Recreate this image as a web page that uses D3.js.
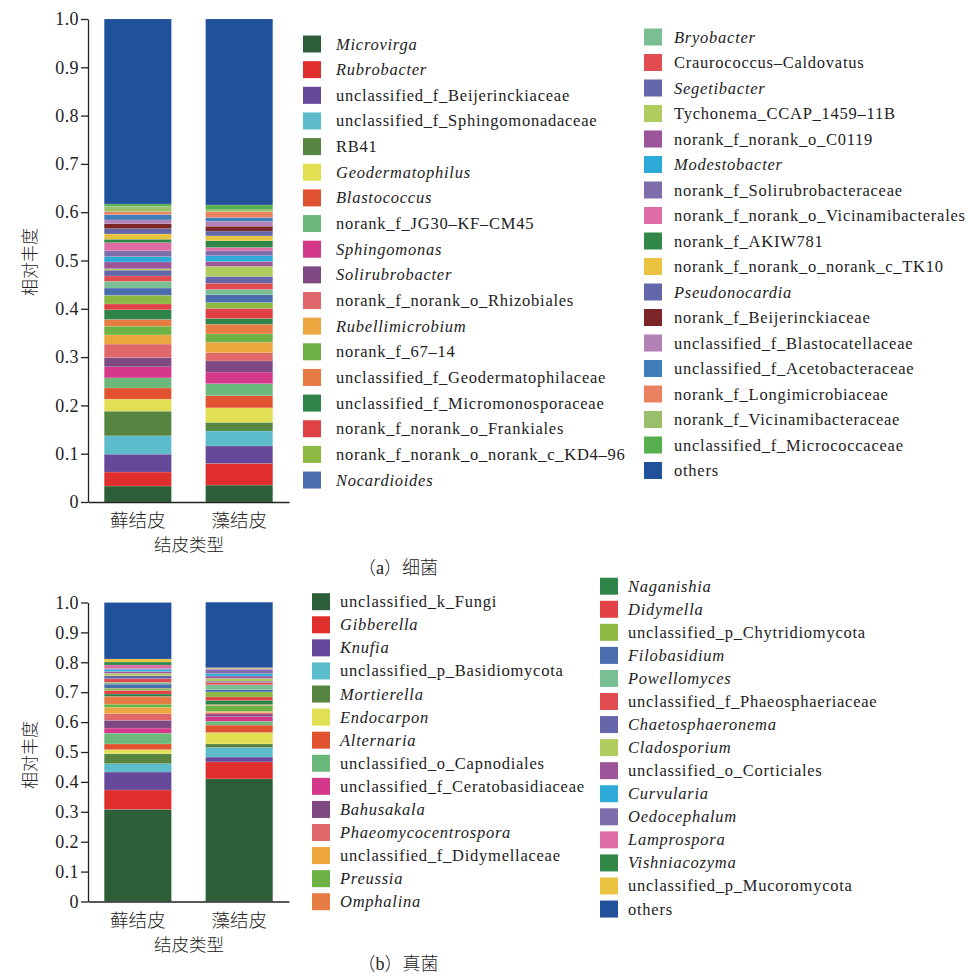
<!DOCTYPE html>
<html>
<head>
<meta charset="utf-8">
<script src="https://cdn.jsdelivr.net/npm/d3@7/dist/d3.min.js"></script>
<style>
  html, body { margin: 0; padding: 0; background: #fff; }
  svg { display: block; }
</style>
</head>
<body>
<svg id="chart" width="968" height="977"></svg>
<script>
const SERIF = "'Liberation Serif', 'Times New Roman', 'DejaVu Serif', serif";
const CJK = "'Noto Sans CJK SC', 'Noto Sans', sans-serif";

// Crust types on the x axis
const crustTypes = ["藓结皮", "藻结皮"];

// Y-axis ticks and their labels
const yTickValues = [0, 0.1, 0.2, 0.3, 0.4, 0.5, 0.6, 0.7, 0.8, 0.9, 1.0];
const yTickLabels = ["0", "0.1", "0.2", "0.3", "0.4", "0.5", "0.6", "0.7", "0.8", "0.9", "1.0"];

// (a) bacteria: taxa from bottom of the stack to the top
const bacteriaTaxa = [
  "Microvirga", "Rubrobacter", "unclassified_f_Beijerinckiaceae", "unclassified_f_Sphingomonadaceae",
  "RB41", "Geodermatophilus", "Blastococcus", "norank_f_JG30–KF–CM45", "Sphingomonas",
  "Solirubrobacter", "norank_f_norank_o_Rhizobiales", "Rubellimicrobium", "norank_f_67–14",
  "unclassified_f_Geodermatophilaceae", "unclassified_f_Micromonosporaceae", "norank_f_norank_o_Frankiales",
  "norank_f_norank_o_norank_c_KD4–96", "Nocardioides",
  "Bryobacter", "Craurococcus–Caldovatus", "Segetibacter", "Tychonema_CCAP_1459–11B",
  "norank_f_norank_o_C0119", "Modestobacter", "norank_f_Solirubrobacteraceae",
  "norank_f_norank_o_Vicinamibacterales", "norank_f_AKIW781", "norank_f_norank_o_norank_c_TK10",
  "Pseudonocardia", "norank_f_Beijerinckiaceae", "unclassified_f_Blastocatellaceae",
  "unclassified_f_Acetobacteraceae", "norank_f_Longimicrobiaceae", "norank_f_Vicinamibacteraceae",
  "unclassified_f_Micrococcaceae", "others"
];
const bacteriaMoss = [
  0.033, 0.029, 0.037, 0.038, 0.051, 0.025, 0.023, 0.021, 0.023, 0.019, 0.028, 0.019, 0.018,
  0.014, 0.020, 0.012, 0.018, 0.015, 0.014, 0.011, 0.012, 0.003, 0.014, 0.011, 0.012, 0.017,
  0.007, 0.011, 0.011, 0.010, 0.008, 0.011, 0.006, 0.011, 0.005, 0.383
];
const bacteriaAlgae = [
  0.035, 0.045, 0.036, 0.031, 0.018, 0.030, 0.025, 0.025, 0.024, 0.023, 0.017, 0.022, 0.017,
  0.020, 0.012, 0.021, 0.012, 0.016, 0.011, 0.013, 0.014, 0.021, 0.010, 0.012, 0.010, 0.007,
  0.014, 0.010, 0.010, 0.010, 0.010, 0.008, 0.012, 0.004, 0.010, 0.385
];
const bacteriaItalic = [
  "Microvirga", "Rubrobacter", "Geodermatophilus", "Blastococcus", "Sphingomonas", "Solirubrobacter",
  "Rubellimicrobium", "Nocardioides", "Bryobacter", "Segetibacter", "Modestobacter", "Pseudonocardia"
];

// (b) fungi: taxa from bottom of the stack to the top
const fungiTaxa = [
  "unclassified_k_Fungi", "Gibberella", "Knufia", "unclassified_p_Basidiomycota", "Mortierella",
  "Endocarpon", "Alternaria", "unclassified_o_Capnodiales", "unclassified_f_Ceratobasidiaceae",
  "Bahusakala", "Phaeomycocentrospora", "unclassified_f_Didymellaceae", "Preussia", "Omphalina",
  "Naganishia", "Didymella", "unclassified_p_Chytridiomycota", "Filobasidium", "Powellomyces",
  "unclassified_f_Phaeosphaeriaceae", "Chaetosphaeronema", "Cladosporium", "unclassified_o_Corticiales",
  "Curvularia", "Oedocephalum", "Lamprospora", "Vishniacozyma", "unclassified_p_Mucoromycota", "others"
];
const fungiMoss = [
  0.308, 0.065, 0.060, 0.028, 0.033, 0.014, 0.019, 0.036, 0.017, 0.026, 0.022, 0.021, 0.011, 0.026,
  0.008, 0.012, 0.007, 0.014, 0.006, 0.012, 0.010, 0.008, 0.006, 0.007, 0.004, 0.011, 0.010, 0.010,
  0.189
];
const fungiAlgae = [
  0.410, 0.057, 0.016, 0.032, 0.012, 0.038, 0.025, 0.013, 0.016, 0.008, 0.005, 0.004, 0.020, 0.003,
  0.014, 0.011, 0.017, 0.008, 0.016, 0.008, 0.004, 0.009, 0.008, 0.008, 0.013, 0.003, 0.002, 0.002,
  0.219
];
const fungiItalic = [
  "Gibberella", "Knufia", "Mortierella", "Endocarpon", "Alternaria", "Bahusakala", "Phaeomycocentrospora",
  "Preussia", "Omphalina", "Naganishia", "Didymella", "Filobasidium", "Powellomyces", "Chaetosphaeronema",
  "Cladosporium", "Curvularia", "Oedocephalum", "Lamprospora", "Vishniacozyma"
];

// Shared colour sequence; "others" always takes the dark blue
const palette = [
  "#2c5f37", "#df2e2b", "#66489a", "#5dbccb", "#558541", "#e1df54", "#e15231", "#6bb97a",
  "#d5388a", "#7e4883", "#e0686b", "#eca63e", "#6cb244", "#e67c44", "#2f8449", "#df4144",
  "#8bb942", "#4a6dae", "#79bf93", "#e04c50", "#6567aa", "#b0cb5e", "#9b5598", "#2eaad9",
  "#7d6eab", "#dd6da4", "#318748", "#e9c33f", "#6367a9", "#7b2528", "#b281b6", "#3f7dbb",
  "#ea8161", "#99bf6b", "#57af4f"
];
const othersColor = "#22519b";

const svg = d3.select("#chart");

function drawPanel(cfg) {
  const taxa = cfg.taxa;
  const color = d3.scaleOrdinal()
    .domain(taxa)
    .range(taxa.map((t, i) => t === "others" ? othersColor : palette[i]));

  const rows = crustTypes.map((c, j) => {
    const r = { type: c };
    taxa.forEach((t, i) => { r[t] = cfg.values[j][i]; });
    return r;
  });

  const x = d3.scaleBand().domain(crustTypes).range([88, 289])
    .paddingInner(0.337).paddingOuter(0.16);
  const y = d3.scaleLinear().domain([0, 1]).range([cfg.bottom, cfg.top]);

  const series = d3.stack().keys(taxa)(rows);

  const g = svg.append("g");

  g.selectAll("g.layer").data(series).join("g")
    .attr("class", "layer")
    .attr("fill", d => color(d.key))
    .selectAll("rect").data(d => d).join("rect")
    .attr("x", d => x(d.data.type))
    .attr("width", x.bandwidth())
    .attr("y", d => y(d[1]))
    .attr("height", d => Math.max(0, y(d[0]) - y(d[1])))
    .attr("stroke", "#ffffff")
    .attr("stroke-opacity", 0.25)
    .attr("stroke-width", 0.5);

  // y axis
  const yAxis = g.append("g")
    .attr("transform", "translate(88,0)")
    .call(d3.axisLeft(y).tickValues(yTickValues)
      .tickFormat((d, i) => yTickLabels[i]).tickSize(7).tickSizeOuter(0).tickPadding(2));
  yAxis.attr("font-family", SERIF);
  yAxis.select(".domain").attr("stroke", "#222").attr("stroke-width", 1.3);
  yAxis.selectAll(".tick line").attr("stroke", "#222").attr("stroke-width", 1.3);
  yAxis.selectAll(".tick text")
    .style("font-family", SERIF)
    .attr("font-size", 18)
    .attr("letter-spacing", 0.4)
    .attr("fill", "#222");

  // x axis
  const xAxis = g.append("g")
    .attr("transform", `translate(0,${cfg.bottom})`)
    .call(d3.axisBottom(x).tickSize(0).tickSizeOuter(0).tickPadding(12));
  xAxis.attr("font-family", CJK);
  xAxis.select(".domain").attr("stroke", "#222").attr("stroke-width", 1.3);
  xAxis.selectAll(".tick text")
    .style("font-family", CJK)
    .style("font-weight", 300)
    .attr("font-size", 18.5)
    .attr("fill", "#222");

  g.append("text")
    .style("font-family", CJK).style("font-weight", 300)
    .attr("x", 189).attr("y", cfg.bottom + 49)
    .attr("text-anchor", "middle").attr("font-size", 17.5).attr("fill", "#222")
    .text("结皮类型");

  g.append("text")
    .style("font-family", CJK).style("font-weight", 300)
    .attr("transform", `translate(36,${cfg.titleY}) rotate(-90)`)
    .attr("text-anchor", "middle").attr("font-size", 17).attr("fill", "#222")
    .text("相对丰度");

  // caption
  const cap = g.append("text")
    .attr("x", 398).attr("y", cfg.captionY)
    .attr("text-anchor", "middle").attr("font-size", 18).attr("fill", "#222");
  cap.append("tspan").style("font-family", CJK).style("font-weight", 300).text("（");
  cap.append("tspan").style("font-family", SERIF).attr("font-size", 18).text(cfg.letter);
  cap.append("tspan").style("font-family", CJK).style("font-weight", 300).text("）" + cfg.caption);

  // legend columns
  cfg.columns.forEach(col => {
    const items = taxa.slice(col.from, col.to);
    const lg = g.append("g");
    const row = lg.selectAll("g").data(items).join("g")
      .attr("transform", (d, i) => `translate(0,${col.y0 + i * col.step})`);
    row.append("rect")
      .attr("x", col.x).attr("y", -8.5)
      .attr("width", 18).attr("height", 17)
      .attr("fill", d => color(d));
    row.append("text")
      .style("font-family", SERIF)
      .attr("x", col.tx).attr("y", 5.5)
      .attr("font-size", 16.5)
      .attr("letter-spacing", 0.75)
      .attr("fill", "#222")
      .attr("font-style", d => cfg.italic.includes(d) ? "italic" : "normal")
      .text(d => d);
  });
}

drawPanel({
  taxa: bacteriaTaxa,
  values: [bacteriaMoss, bacteriaAlgae],
  italic: bacteriaItalic,
  top: 19, bottom: 502,
  titleY: 262, captionY: 574,
  letter: "a", caption: "细菌",
  columns: [
    { from: 0, to: 18, x: 303, tx: 336, y0: 44, step: 25.65 },
    { from: 18, to: 36, x: 644, tx: 674, y0: 37, step: 25.5 }
  ]
});

drawPanel({
  taxa: fungiTaxa,
  values: [fungiMoss, fungiAlgae],
  italic: fungiItalic,
  top: 602.5, bottom: 901.5,
  titleY: 755, captionY: 970,
  letter: "b", caption: "真菌",
  columns: [
    { from: 0, to: 14, x: 312, tx: 340, y0: 601.7, step: 23.08 },
    { from: 14, to: 29, x: 600, tx: 628, y0: 586.2, step: 23.06 }
  ]
});
</script>
</body>
</html>
